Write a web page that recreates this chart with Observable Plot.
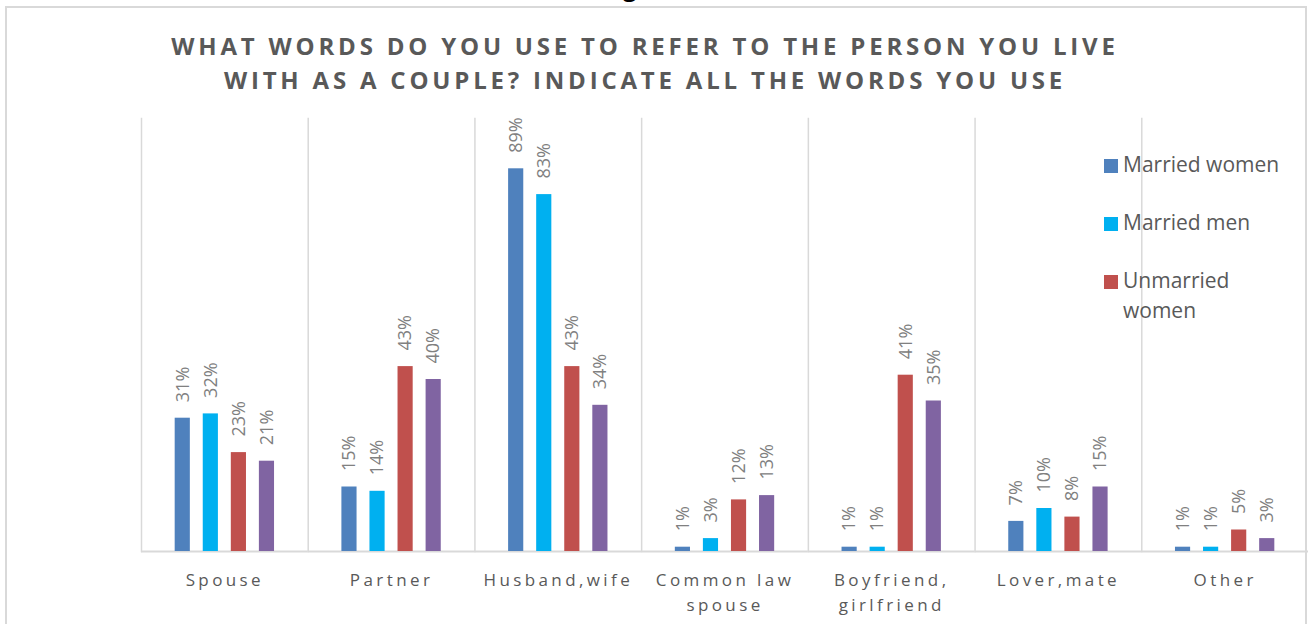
<!DOCTYPE html>
<html>
<head>
<meta charset="utf-8">
<script src="https://cdn.jsdelivr.net/npm/d3@7"></script>
<script src="https://cdn.jsdelivr.net/npm/@observablehq/plot@0.6"></script>
<style>
  html, body { margin: 0; padding: 0; background: #fff; overflow: hidden; }
  #wrap { position: relative; width: 1309px; height: 624px; font-family: "Open Sans", sans-serif; overflow: hidden; }
  #frame { position: absolute; left: 5px; top: 6px; width: 1298px; height: 700px; border: 2px solid #d9d9d9; pointer-events: none; }
  #title { position: absolute; left: 0; width: 1290px; top: 29px; text-align: center; font-weight: 700; font-size: 24px; letter-spacing: 3.8px; line-height: 34px; color: #595959; white-space: nowrap; }
  #legend { position: absolute; left: 1104px; top: 149px; color: #595959; font-size: 21px; line-height: 30px; }
  .item { position: relative; padding-left: 19px; margin-bottom: 28px; white-space: nowrap; }
  .sw { position: absolute; left: 0; top: 10px; width: 14px; height: 14px; }
  #cut { position: absolute; left: 623px; top: -25px; font-weight: 700; font-size: 24px; line-height: 24px; color: #000; }
  #chart svg { position: absolute; left: 0; top: 0; }
  g[aria-label="fx-axis tick label"] text { letter-spacing: 3.4px; }
</style>
</head>
<body>
<div id="wrap">
  <div id="cut">g</div>
  <div id="chart"></div>
  <div id="frame"></div>
  <div id="title">WHAT WORDS DO YOU USE TO REFER TO THE PERSON YOU LIVE<br>WITH AS A COUPLE? INDICATE ALL THE WORDS YOU USE</div>
  <div id="legend"></div>
</div>
<script>
const categories = ["Spouse", "Partner", "Husband,wife", "Common law spouse", "Boyfriend, girlfriend", "Lover,mate", "Other"];
const categoryLabels = ["Spouse", "Partner", "Husband,wife", "Common law\nspouse", "Boyfriend,\ngirlfriend", "Lover,mate", "Other"];
const series = ["Married women", "Married men", "Unmarried women", "Unmarried men"];
const legendLabels = ["Married women", "Married men", "Unmarried\nwomen"];
const marriedWomen   = [31, 15, 89, 1, 1, 7, 1];
const marriedMen     = [32, 14, 83, 3, 1, 10, 1];
const unmarriedWomen = [23, 43, 43, 12, 41, 8, 5];
const unmarriedMen   = [21, 40, 34, 13, 35, 15, 3];
const colors = ["#4F81BD", "#00B0F0", "#C0504D", "#8064A2"];

const seriesValues = [marriedWomen, marriedMen, unmarriedWomen, unmarriedMen];
const rows = [];
categories.forEach((c, i) => {
  series.forEach((s, j) => rows.push({cat: c, series: s, value: seriesValues[j][i]}));
});
const labelOf = new Map(categories.map((c, i) => [c, categoryLabels[i]]));

const chart = Plot.plot({
  width: 1309,
  height: 624,
  marginLeft: 141,
  marginRight: 1,
  marginTop: 121,
  marginBottom: 73,
  style: {background: "transparent", fontFamily: "Open Sans, sans-serif"},
  fx: {domain: categories, padding: 0, round: false, label: null, axis: null},
  x: {domain: series, paddingInner: 0.46, paddingOuter: 1.2, round: false, axis: null},
  y: {domain: [0, 100], axis: null},
  color: {domain: series, range: colors},
  marks: [
    Plot.frame({anchor: "left", stroke: "#d9d9d9", strokeWidth: 1.5, insetTop: -3}),
    Plot.ruleY([0], {stroke: "#d9d9d9", strokeWidth: 2}),
    Plot.barY(rows, {fx: "cat", x: "series", y: "value", fill: "series"}),
    Plot.text(rows, {fx: "cat", x: "series", y: "value", text: d => d.value + "%", rotate: -90, textAnchor: "start", dy: -16, fontSize: 18, fill: "#808080"}),
    Plot.axisFx({anchor: "bottom", tickSize: 0, tickPadding: 17, fontSize: 17, fill: "#595959", label: null, tickFormat: d => labelOf.get(d), lineHeight: 1.45})
  ]
});
document.getElementById("chart").appendChild(chart);

const legend = document.getElementById("legend");
legendLabels.forEach((name, i) => {
  const item = document.createElement("div");
  item.className = "item";
  const sw = document.createElement("div");
  sw.className = "sw";
  sw.style.background = colors[i];
  item.appendChild(sw);
  name.split("\n").forEach((line, k) => {
    if (k) item.appendChild(document.createElement("br"));
    item.appendChild(document.createTextNode(line));
  });
  legend.appendChild(item);
});
</script>
</body>
</html>
